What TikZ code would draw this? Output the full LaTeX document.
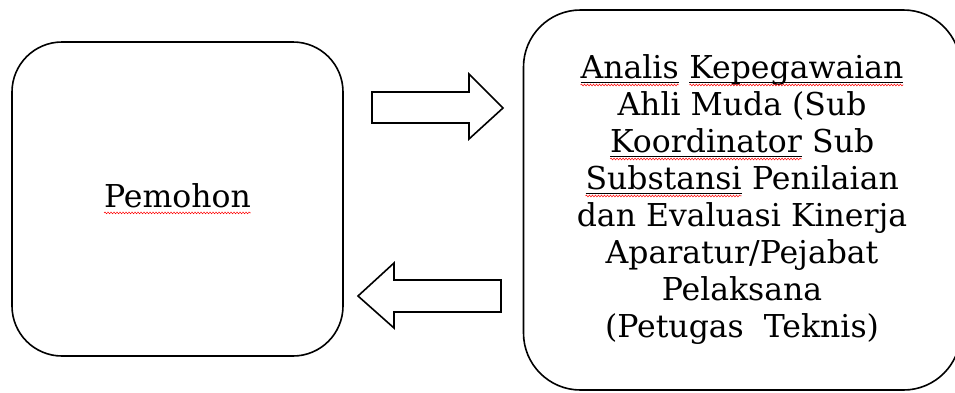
\documentclass[tikz,border=0pt]{standalone}
\usepackage{fontspec}
\setmainfont{DejaVu Serif}
\usetikzlibrary{decorations.pathmorphing}

\tikzset{
  box/.style={draw, line width=1.6pt, align=center, inner sep=0pt, font=\fontsize{31.5}{37}\selectfont},
  blockarrow/.style={draw, line width=1.6pt, line join=miter},
  wordbox/.style={draw=none, inner sep=0pt, outer sep=0pt, minimum width=0pt, minimum height=0pt, rounded corners=0pt, anchor=center},
  squiggle/.style={draw=red, line width=0.5pt, sharp corners, decorate, decoration={snake, amplitude=0.9pt, segment length=3pt}},
  underbar/.style={draw=black, line width=0.7pt, sharp corners}
}
% red wavy line under a word
\newcommand{\wavy}[1]{\tikz[baseline=(w.base), x=1cm, y=1cm]{\node[wordbox] (w) {#1};
  \draw[squiggle] ([yshift=-5pt]w.base west) -- ([yshift=-5pt]w.base east);}}
% underlined word with red wavy line
\newcommand{\uwavy}[1]{\tikz[baseline=(w.base), x=1cm, y=1cm]{\node[wordbox] (w) {#1};
  \draw[underbar] ([yshift=-3pt]w.base west) -- ([yshift=-3pt]w.base east);
  \draw[squiggle] ([yshift=-6pt]w.base west) -- ([yshift=-6pt]w.base east);}}

\begin{document}
\begin{tikzpicture}[x=1pt, y=-1pt]
  \useasboundingbox (0,0) rectangle (955,392);

  \node[box, rounded corners=50pt, minimum width=331pt, minimum height=314pt] (pemohon) at (177.5,199) {\wavy{Pemohon}};
  \node[box, rounded corners=57pt, minimum width=437pt, minimum height=380pt] (analis) at (742,200)
    {\uwavy{Analis} \uwavy{Kepegawaian}\\
     Ahli Muda (Sub\\
     \uwavy{Koordinator} Sub\\
     \uwavy{Substansi} Penilaian\\
     dan Evaluasi Kinerja\\
     Aparatur/Pejabat\\
     Pelaksana\\
     (Petugas~~Teknis)};

  % arrows between the boxes
  \draw[blockarrow] (372,92) -- (469,92) -- (469,74) -- (503,108) -- (469,139) -- (469,123) -- (372,123) -- cycle;
  \draw[blockarrow] (501,280) -- (394,280) -- (394,263) -- (358,296) -- (394,328) -- (394,312) -- (501,312) -- cycle;
\end{tikzpicture}
\end{document}
